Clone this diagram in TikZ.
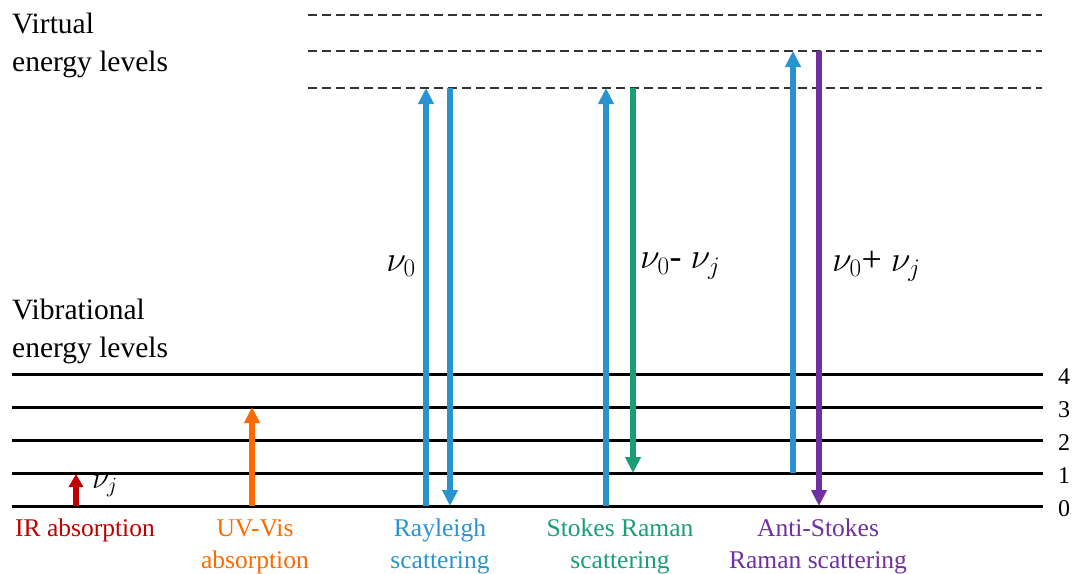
\documentclass[tikz,border=0pt]{standalone}
\usepackage{fix-cm}
\usepackage{fontspec}
\setmainfont{Liberation Serif}
\usetikzlibrary{arrows.meta}
\definecolor{cblue}{HTML}{2893CF}
\definecolor{cgreen}{HTML}{1A9E77}
\definecolor{cpurple}{HTML}{7030A0}
\definecolor{cred}{HTML}{C00000}
\definecolor{corange}{HTML}{FF6A00}
\tikzset{
  level/.style={line width=3pt, black},
  virt/.style={line width=1.5pt, black!80, dash pattern=on 9pt off 5pt},
  trans/.style={line width=5.5pt, -{Triangle[length=16pt,width=15pt]}},
  head/.style={font=\fontsize{29.5}{38}\selectfont, align=left, anchor=base west, inner sep=0pt},
  lab/.style={font=\fontsize{25.5}{32}\selectfont, align=center, anchor=base, inner sep=0pt},
  numlab/.style={font=\fontsize{24}{26}\selectfont, anchor=west, inner sep=0pt},
  nulab/.style={font=\fontsize{36}{40}\selectfont, inner sep=0pt},
}
\begin{document}
\begin{tikzpicture}[x=1pt,y=-1pt]
\useasboundingbox (0,0) rectangle (1073,573);
% virtual levels
\foreach \y/\n in {15/v2,51/v1,88/v0}{
  \coordinate (\n L) at (308,\y);
  \coordinate (\n R) at (1042,\y);
  \draw[virt] (\n L) -- (\n R);
}
% vibrational levels
\foreach \y/\n in {374/4,407/3,440/2,473/1,506/0}{
  \coordinate (l\n L) at (12,\y);
  \coordinate (l\n R) at (1043,\y);
  \draw[level] (l\n L) -- (l\n R);
  \node[numlab] (n\n) at (1058,\y+3) {\n};
}
\node[head] (virtual) at (12,71) {Virtual\\energy levels};
\node[head] (vibr) at (12,357) {Vibrational\\energy levels};

% IR absorption
\coordinate (ir0) at (76,506); \coordinate (ir1) at (76,474);
\draw[trans, cred, -{Triangle[length=13pt,width=14pt]}] (ir0) -- (ir1);
\node[nulab, anchor=west, font=\fontsize{31}{34}\selectfont] (nuj) at (92,486) {$\nu_j$};
% UV-Vis
\coordinate (uv0) at (252,506); \coordinate (uv1) at (252,407);
\draw[trans, corange] (uv0) -- (uv1);
% Rayleigh
\coordinate (ra0) at (426,506); \coordinate (ra1) at (426,88);
\coordinate (rb1) at (450,88); \coordinate (rb0) at (450,506);
\draw[trans, cblue] (ra0) -- (ra1);
\draw[trans, cblue] (rb1) -- (rb0);
\node[nulab, anchor=east] (nu0) at (416,266) {$\nu_0$};
% Stokes
\coordinate (sa0) at (606,506); \coordinate (sa1) at (606,88);
\coordinate (sb1) at (633,88); \coordinate (sb0) at (633,473);
\draw[trans, cblue] (sa0) -- (sa1);
\draw[trans, cgreen] (sb1) -- (sb0);
\node[nulab, anchor=west] (nus) at (640,266) {$\nu_0$- $\nu_j$};
% Anti-Stokes
\coordinate (aa0) at (793,473); \coordinate (aa1) at (793,51);
\coordinate (ab1) at (819,51); \coordinate (ab0) at (819,506);
\draw[trans, cblue] (aa0) -- (aa1);
\draw[trans, cpurple] (ab1) -- (ab0);
\node[nulab, anchor=west] (nua) at (832,266) {$\nu_0$+ $\nu_j$};

% bottom labels
\node[lab, cred] (lir) at (85,536) {IR absorption};
\node[lab, corange] (luv) at (255,568) {UV-Vis\\absorption};
\node[lab, cblue] (lra) at (440,568) {Rayleigh\\scattering};
\node[lab, cgreen] (lst) at (620,568) {Stokes Raman\\scattering};
\node[lab, cpurple] (las) at (818,568) {Anti-Stokes\\Raman scattering};
\end{tikzpicture}
\end{document}
